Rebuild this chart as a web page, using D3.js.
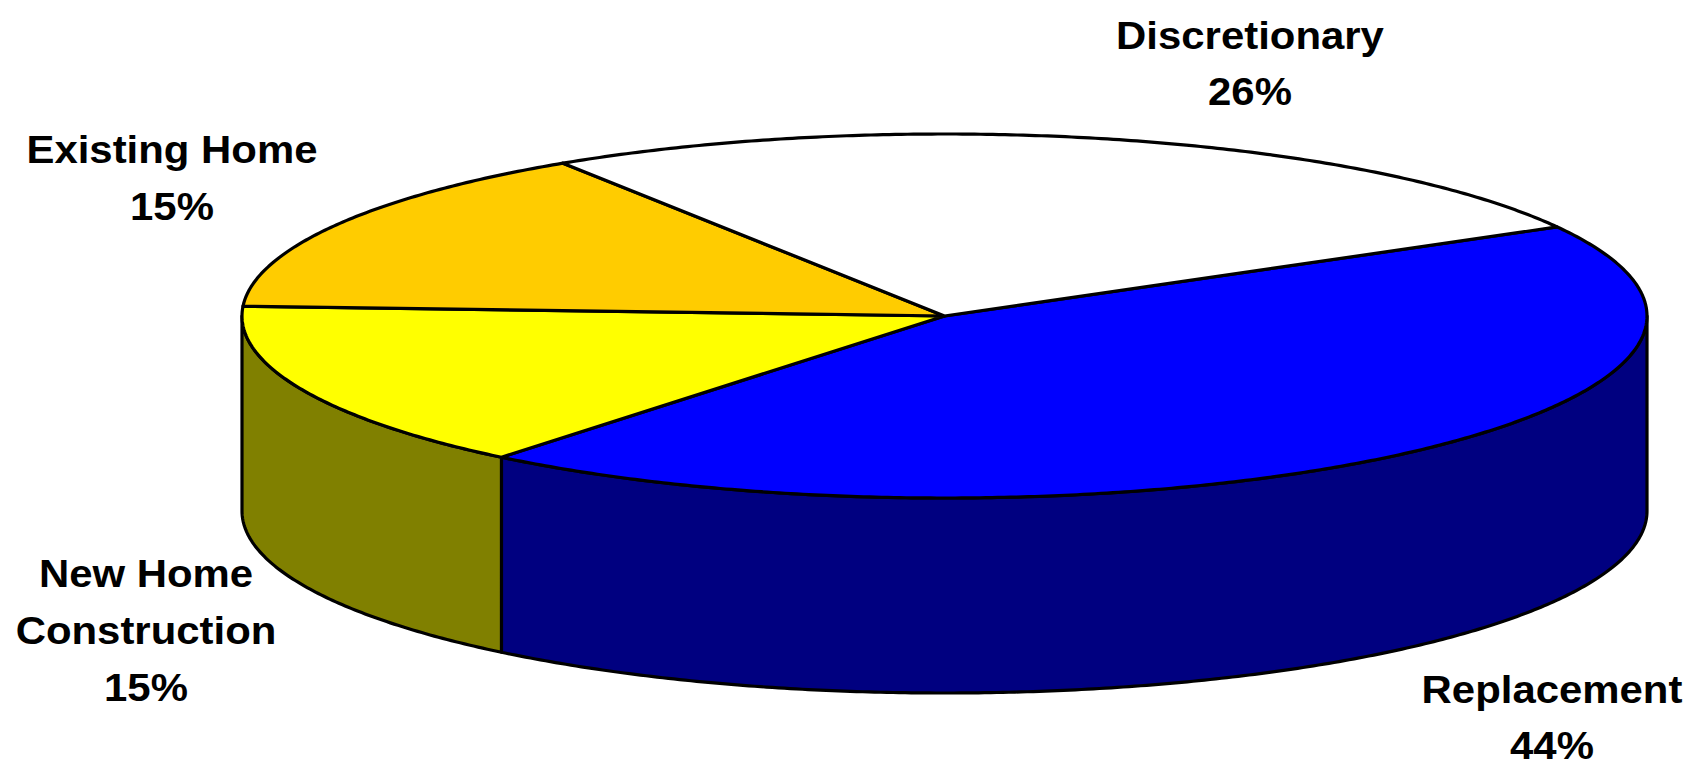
<!DOCTYPE html>
<html>
<head>
<meta charset="utf-8">
<script src="https://cdn.jsdelivr.net/npm/d3@7/dist/d3.min.js"></script>
<style>
  html, body { margin: 0; padding: 0; background: #ffffff; }
  svg { display: block; }
  text { font-family: "Liberation Sans", Arial, Helvetica, sans-serif; font-weight: bold; fill: #000; }
</style>
</head>
<body>
<svg id="chart" width="1695" height="767"></svg>
<script>
// Market segments and their shares (percent)
const categories = ["Replacement", "New Home Construction", "Existing Home", "Discretionary"];
const shares = [44, 15, 15, 26];
const nameLines = [["Replacement"], ["New Home", "Construction"], ["Existing Home"], ["Discretionary"]];

// Fill styles: top face and side wall of each slice
const topColors = ["#0000ff", "#ffff00", "#ffcc00", "#ffffff"];
const sideColors = ["#000080", "#808000", "#806600", "#808080"];

// Geometry of the tilted pie
const W = 1695, H = 767;
const cx = 944.5, cy = 316, rx = 702.5, ry = 182, depth = 195;
const startDeg = 60.7; // where the first slice begins, clockwise from 12 o'clock

// Label anchors (center x, first baseline y) and line spacing
const labelPos = [[1552, 703], [146, 587], [172, 163], [1250, 49]];
const lineGap = [56, 57, 57, 56];

const svg = d3.select("#chart");

const pie = d3.pie()
  .sort(null)
  .value(d => d.value)
  .startAngle(startDeg * Math.PI / 180)
  .endAngle(startDeg * Math.PI / 180 + 2 * Math.PI);

const data = categories.map((c, i) => ({ name: c, value: shares[i], i }));
const arcs = pie(data);

// pie angle (clockwise from top) -> screen angle (clockwise from +x)
const toScreen = a => a - Math.PI / 2;
const px = t => cx + rx * Math.cos(t);
const py = (t, dz = 0) => cy + ry * Math.sin(t) + dz;

function sample(t0, t1, dz) {
  const n = Math.max(2, Math.ceil(Math.abs(t1 - t0) / (Math.PI / 360)));
  const pts = [];
  for (let k = 0; k <= n; k++) {
    const t = t0 + (t1 - t0) * k / n;
    pts.push([px(t), py(t, dz)]);
  }
  return pts;
}

const line = d3.line().curve(d3.curveLinear);

// Side walls: only the front half (screen angle 0..PI) is visible
const sides = [];
arcs.forEach(a => {
  const t0 = toScreen(a.startAngle), t1 = toScreen(a.endAngle);
  for (let off = -2 * Math.PI; off <= 2 * Math.PI; off += 2 * Math.PI) {
    const s = Math.max(t0 + off, 0), e = Math.min(t1 + off, Math.PI);
    if (e > s + 1e-6) {
      const top = sample(s, e, 0);
      const bottom = sample(e, s, depth);
      sides.push({ i: a.data.i, pts: top.concat(bottom) });
    }
  }
});

svg.append("g")
  .selectAll("path")
  .data(sides)
  .join("path")
  .attr("d", d => line(d.pts) + "Z")
  .attr("fill", d => sideColors[d.i])
  .attr("stroke", "#000")
  .attr("stroke-width", 3.2)
  .attr("stroke-linejoin", "round");

// Top faces
svg.append("g")
  .selectAll("path")
  .data(arcs)
  .join("path")
  .attr("d", a => {
    const pts = [[cx, cy]].concat(sample(toScreen(a.startAngle), toScreen(a.endAngle), 0));
    return line(pts) + "Z";
  })
  .attr("fill", a => topColors[a.data.i])
  .attr("stroke", "#000")
  .attr("stroke-width", 3.2)
  .attr("stroke-linejoin", "round");

// Category labels with percentages
const fmt = d3.format("d");
const labels = svg.append("g")
  .selectAll("g")
  .data(arcs)
  .join("g")
  .attr("transform", a => `translate(${labelPos[a.data.i][0]},${labelPos[a.data.i][1]}) scale(1.075,1)`);

labels.each(function (a) {
  const g = d3.select(this);
  const lines = nameLines[a.data.i].concat([fmt(a.data.value) + "%"]);
  lines.forEach((t, k) => {
    g.append("text")
      .attr("x", 0)
      .attr("y", k * lineGap[a.data.i])
      .attr("text-anchor", "middle")
      .attr("font-size", 39)
      .text(t);
  });
});
</script>
</body>
</html>
